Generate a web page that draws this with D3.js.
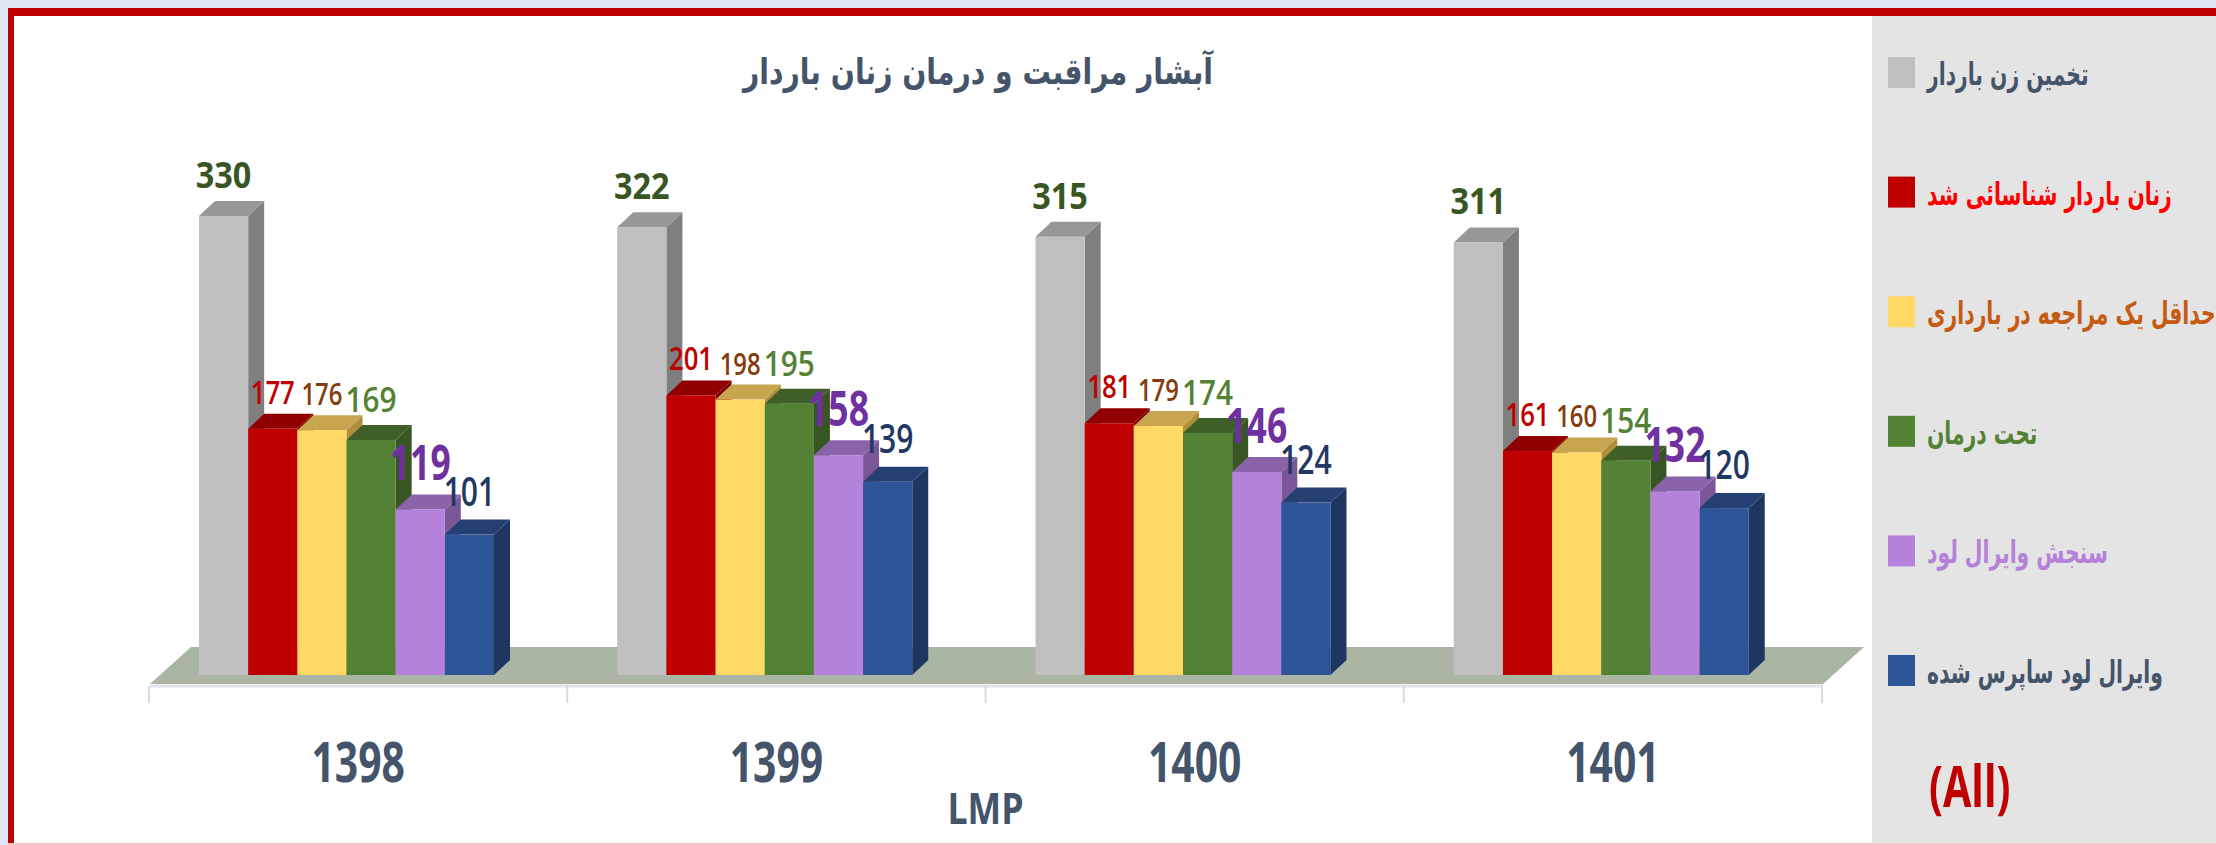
<!DOCTYPE html>
<html lang="fa">
<head>
<meta charset="UTF-8">
<title>آبشار مراقبت و درمان زنان باردار</title>
<style>
    body { margin: 0; background: #dde8f4; }
    svg { display: block; }
    .num { font-family: "Open Sans", sans-serif; }
    .fa { font-family: "DejaVu Sans", sans-serif; font-weight: bold; }
</style>
</head>
<body>
<svg width="2216" height="845"></svg>
<script src="https://d3js.org/d3.v7.min.js"></script>
<script>
    // data
    const years = ["1398", "1399", "1400", "1401"];
    const seriesNames = [
        "تخمین زن باردار",
        "زنان باردار شناسائی شد",
        "حداقل یک مراجعه در بارداری",
        "تحت درمان",
        "سنجش وایرال لود",
        "وایرال لود ساپرس شده"
    ];
    const estimated = [330, 322, 315, 311];
    const identified = [177, 201, 181, 161];
    const oneVisit = [176, 198, 179, 160];
    const treated = [169, 195, 174, 154];
    const vlTested = [119, 158, 146, 132];
    const vlSuppressed = [101, 139, 124, 120];
    const values = [estimated, identified, oneVisit, treated, vlTested, vlSuppressed];

    const front = ["#bfbfbf", "#c00000", "#ffd966", "#548235", "#b482da", "#2e5597"];
    const topC = ["#979797", "#900000", "#c8a64f", "#3e5f28", "#8a63a8", "#243f72"];
    const sideC = ["#7f7f7f", "#7a0000", "#b08f3a", "#375623", "#7a5797", "#1f3661"];
    const labelColor = ["#375623", "#c00000", "#843c0c", "#548235", "#7030a0", "#1f3864"];
    const labelSize = [36, 33, 31, 35, 48, 39];
    const labelWeight = [700, 600, 600, 600, 700, 600];
    const labelSx = [0.9, 0.78, 0.77, 0.85, 0.74, 0.77];
    const labelGap = [28, 25, 25, 28, 29, 29];
    const legendText = ["#44546a", "#ff0000", "#c55a11", "#548235", "#b580d9", "#44546a"];

    const svg = d3.select("svg");

    // frame
    svg.append("rect").attr("x", 8).attr("y", 8).attr("width", 2208).attr("height", 837).attr("fill", "#c00000");
    svg.append("rect").attr("x", 14).attr("y", 16).attr("width", 1858).attr("height", 827).attr("fill", "#ffffff");
    svg.append("rect").attr("x", 1872).attr("y", 16).attr("width", 344).attr("height", 827).attr("fill", "#e4e4e4");
    svg.append("rect").attr("x", 8).attr("y", 843).attr("width", 2208).attr("height", 2).attr("fill", "#f3c6c6");

    const x = d3.scaleBand().domain(years).range([149, 1822]);
    const inner = d3.scaleBand().domain(d3.range(6)).range([50, 345]);
    const y = d3.scaleLinear().domain([0, 330]).range([675, 216]);
    const dx = 16, dy = 15;

    // floor
    const fx0 = x.range()[0] + 1, fx1 = x.range()[1] + 1, fb = 684, fdx = 41, fdy = 37;
    svg.append("polygon")
        .attr("points", [[fx0, fb], [fx1, fb], [fx1 + fdx, fb - fdy], [fx0 + fdx, fb - fdy]].join(" "))
        .attr("fill", "#aab5a3");
    svg.append("line").attr("x1", fx0).attr("x2", fx1).attr("y1", fb + 2).attr("y2", fb + 2)
        .attr("stroke", "#dfe4ec").attr("stroke-width", 3);

    // dividers between categories
    const edges = years.map(d => x(d)).concat([x.range()[1]]);
    svg.append("g").selectAll("line").data(edges).enter().append("line")
        .attr("x1", d => d).attr("x2", d => d).attr("y1", 686).attr("y2", 703)
        .attr("stroke", "#d6dce5").attr("stroke-width", 2);

    // bars
    const bars = [];
    years.forEach((yr, g) => {
        values.forEach((arr, i) => {
            bars.push({ year: yr, s: i, v: arr[g] });
        });
    });

    const barG = svg.append("g");
    bars.forEach(b => {
        const x0 = x(b.year) + inner(b.s);
        const w = inner.bandwidth();
        const y0 = y(b.v);
        const base = y(0);
        barG.append("polygon")
            .attr("points", [[x0 + w, y0], [x0 + w + dx, y0 - dy], [x0 + w + dx, base - dy], [x0 + w, base]].join(" "))
            .attr("fill", sideC[b.s]);
        barG.append("polygon")
            .attr("points", [[x0, y0], [x0 + dx, y0 - dy], [x0 + w + dx, y0 - dy], [x0 + w, y0]].join(" "))
            .attr("fill", topC[b.s]);
        barG.append("rect")
            .attr("x", x0).attr("y", y0).attr("width", w).attr("height", base - y0)
            .attr("fill", front[b.s]);
    });

    // value labels
    svg.append("g").selectAll("text").data(bars).enter().append("text")
        .attr("class", "num")
        .attr("text-anchor", "middle")
        .attr("transform", d => {
            const cx = x(d.year) + inner(d.s) + inner.bandwidth() / 2;
            return `translate(${cx},${y(d.v) - labelGap[d.s]}) scale(${labelSx[d.s]},1)`;
        })
        .attr("fill", d => labelColor[d.s])
        .attr("font-size", d => labelSize[d.s])
        .attr("font-weight", d => labelWeight[d.s])
        .text(d => d.v);

    // category axis
    const axis = svg.append("g").attr("transform", "translate(0,686)")
        .call(d3.axisBottom(x).tickSize(0).tickPadding(56));
    axis.select(".domain").remove();
    axis.selectAll("text")
        .attr("class", "num")
        .attr("font-size", 56).attr("font-weight", "bold")
        .attr("fill", "#44546a")
        .attr("transform", "scale(0.73,1)");

    svg.append("text").attr("class", "num")
        .attr("text-anchor", "middle")
        .attr("transform", `translate(${(x.range()[0] + x.range()[1]) / 2},824) scale(0.83,1)`)
        .attr("font-size", 43).attr("font-weight", "bold").attr("fill", "#44546a")
        .text("LMP");

    // title
    const title = svg.append("text").attr("class", "fa")
        .attr("x", 978).attr("y", 84)
        .attr("text-anchor", "middle")
        .attr("font-size", 36).attr("fill", "#44546a")
        .text("آبشار مراقبت و درمان زنان باردار");
    const tw = title.node().getBBox().width;
    title.attr("transform", `translate(978,0) scale(${473 / tw},1) translate(-978,0)`);

    // legend
    const leg = svg.append("g");
    const rowY = i => 72 + i * 119.6;
    leg.selectAll("rect").data(seriesNames).enter().append("rect")
        .attr("x", 1888).attr("y", (d, i) => rowY(i) - 15)
        .attr("width", 27).attr("height", 31)
        .attr("fill", (d, i) => front[i]);
    const legTexts = leg.selectAll("text").data(seriesNames).enter().append("text")
        .attr("class", "fa")
        .attr("x", 1927).attr("y", (d, i) => rowY(i) + 13)
        .attr("font-size", 31)
        .attr("fill", (d, i) => legendText[i])
        .text(d => d);
    const lw = legTexts.nodes()[0].getBBox().width;
    const lsx = 163 / lw;
    legTexts.attr("transform", `translate(1927,0) scale(${lsx},1) translate(-1927,0)`);

    svg.append("text").attr("class", "num")
        .attr("transform", "translate(1929,807) scale(0.71,1)")
        .attr("font-size", 58).attr("font-weight", "bold").attr("fill", "#c00000")
        .text("(All)");
</script>
</body>
</html>
